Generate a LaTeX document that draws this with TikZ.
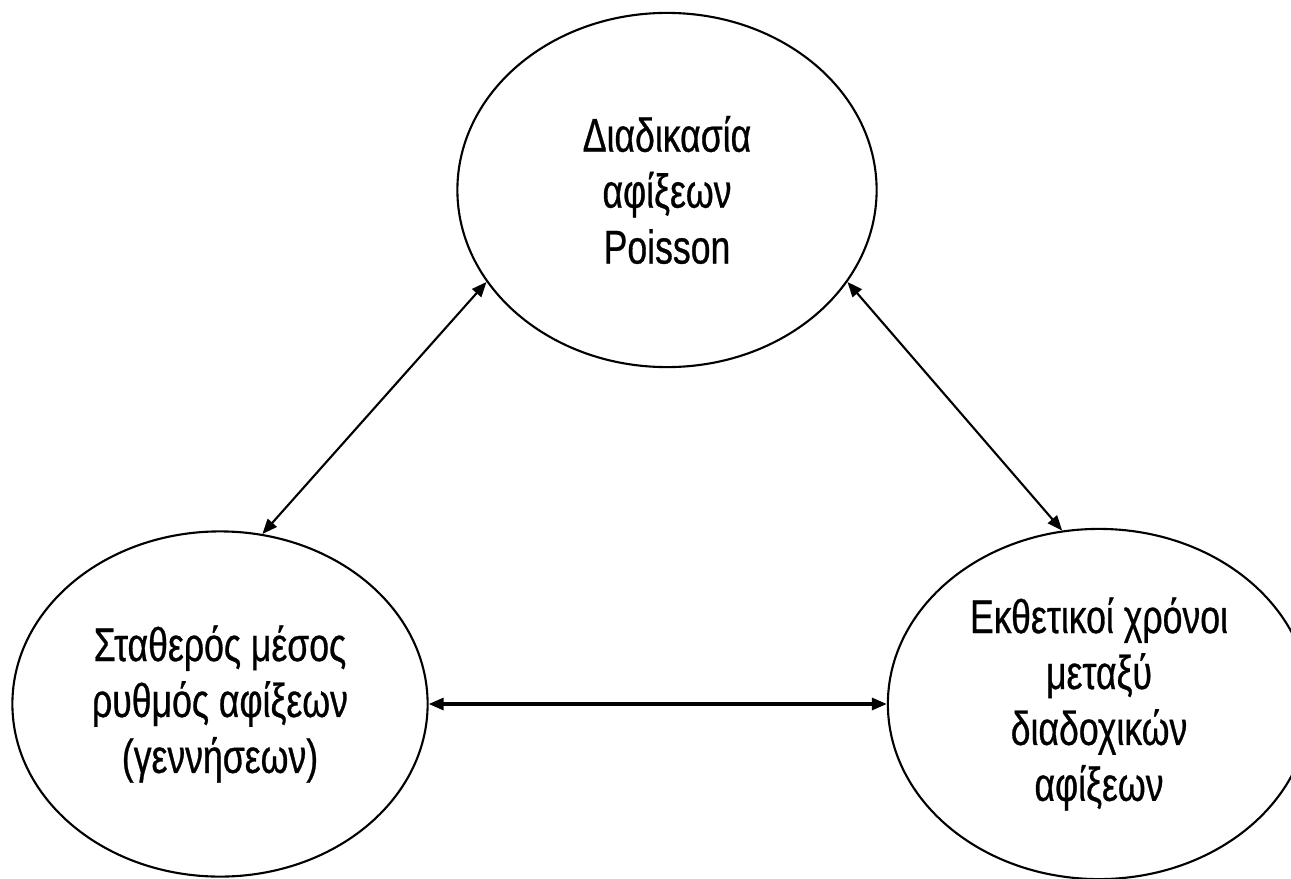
\documentclass[tikz,border=0pt]{standalone}
\usepackage{fontspec}
\setmainfont[FakeStretch=0.75, FakeBold=0.6]{Liberation Sans}
\usetikzlibrary{shapes.geometric,arrows.meta}
\begin{document}
\begin{tikzpicture}[x=0.01cm, y=-0.01cm,
    main/.style = {draw, ellipse, align=center, line width=0.6pt, font=\fontsize{13.5}{15.9}\selectfont},
    link/.style = {<->, >={Triangle[length=1.5mm, width=1.2mm]}, line width=0.6pt}]
        \useasboundingbox (0, 0) rectangle (1291, 879);

        \node[main, minimum width=4.19cm, minimum height=3.54cm] (poisson) at (667, 190) {Διαδικασία\\αφίξεων\\Poisson};
        \node[main, minimum width=4.15cm, minimum height=3.45cm] (rate) at (220, 704) {Σταθερός μέσος\\ρυθμός αφίξεων\\(γεννήσεων)};
        \node[main, minimum width=4.22cm, minimum height=3.50cm] (expo) at (1099, 704) {Εκθετικοί χρόνοι\\μεταξύ\\διαδοχικών\\αφίξεων};

        \draw[link] (rate.76.4) -- (poisson.207);
        \draw[link] (expo.102.6) -- (poisson.333);
        \draw[link, line width=0.9pt] (rate.east) -- (expo.west);
    \end{tikzpicture}
\end{document}
